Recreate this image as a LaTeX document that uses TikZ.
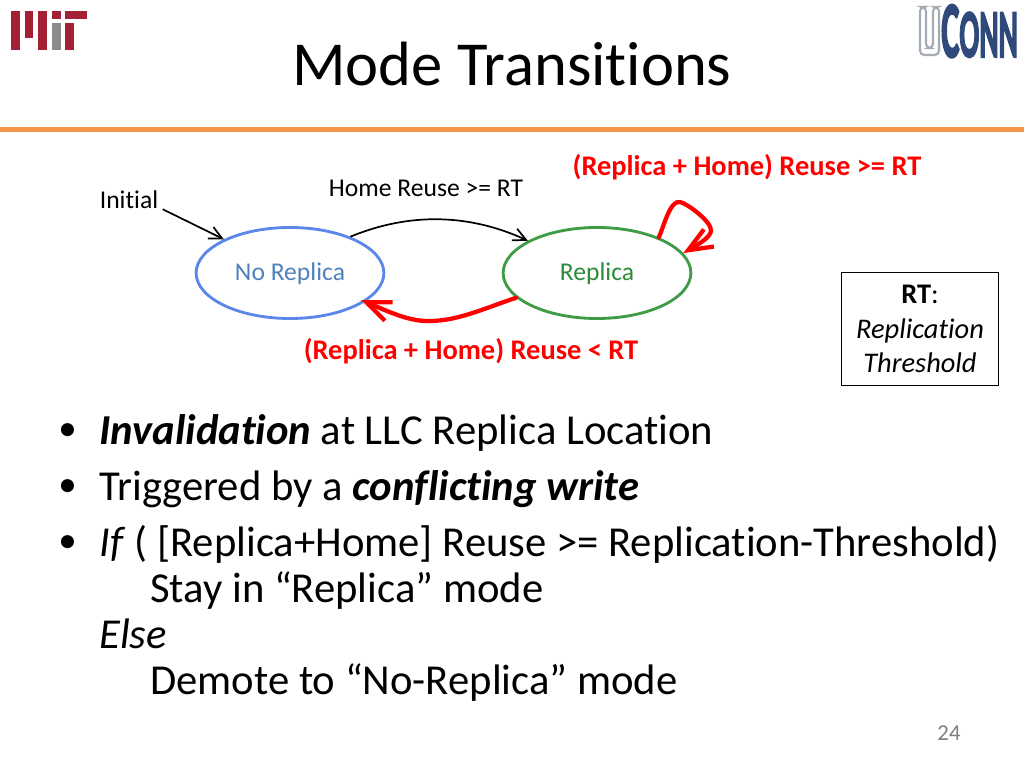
\documentclass[tikz,border=0pt]{standalone}
\usepackage{fontspec}
\setmainfont[Ligatures=NoCommon]{Carlito}
\newfontfamily\connfont[BoldFeatures={FakeBold=3}]{Carlito}
\usetikzlibrary{arrows.meta,shapes.geometric,positioning}
\definecolor{mitred}{HTML}{A31F34}
\definecolor{mitgray}{HTML}{8A8B8C}
\definecolor{connblue}{HTML}{2F4A7A}
\definecolor{connline}{HTML}{A5ABB3}
\definecolor{rulecolor}{HTML}{F79646}
\definecolor{modeblue}{HTML}{5B86EA}
\definecolor{modegreen}{HTML}{3F9B45}
\definecolor{textblue}{HTML}{4F81BD}
\definecolor{textgreen}{HTML}{2A8C36}
\definecolor{pagegray}{HTML}{7F7F7F}
\tikzset{
  mode/.style={ellipse, draw, line width=2pt, minimum width=132pt, minimum height=64pt, inner sep=0pt, text height=14.5pt, text depth=3.4pt, font=\fontsize{18}{22}\selectfont},
  label18/.style={font=\fontsize{18}{22}\selectfont, inner sep=0pt},
  redlabel/.style={text=red, inner sep=0pt, font=\fontsize{20}{24}\selectfont\bfseries},
  bullet/.style={anchor=base west, inner sep=0pt, font=\fontsize{30}{36}\selectfont},
  dotmark/.style={anchor=base west, inner sep=0pt, font=\fontsize{26}{36}\selectfont},
  thinarrow/.style={-{Straight Barb[length=9pt,width=9pt]}, line width=1.2pt},
  redarrow/.style={-{Straight Barb[length=17pt,width=14pt]}, line width=3pt, red, line cap=round}
}
\begin{document}
\begin{tikzpicture}[x=0.703125pt, y=-0.703125pt]
	\useasboundingbox (0,0) rectangle (1024,768);
	\fill[white] (0,0) rectangle (1024,768);

	% MIT logo
	\fill[mitred] (11,11) rectangle (20,50);
	\fill[mitred] (25,11) rectangle (33,38);
	\fill[mitred] (38,11) rectangle (47,50);
	\fill[mitred] (52,11) rectangle (61,19);
	\fill[mitgray] (52,23) rectangle (61,50);
	\fill[mitred] (65,11) rectangle (87,19);
	\fill[mitred] (65,23) rectangle (74,50);

	% UConn logo
	\draw[connline, line width=1.5pt, rounded corners=3pt] (920,7) -- (920,55) -- (939,55) -- (939,7) -- (933,7) -- (933,48) -- (926,48) -- (926,7) -- cycle;
	\node[anchor=base west, inner sep=0pt, text=connblue, font=\fontsize{56}{56}\connfont\bfseries] (uconn) at (941,57) {\scalebox{0.43}[1]{C\fontsize{48}{48}\selectfont ONN}};

	% title
	\node[inner sep=0pt, font=\fontsize{44}{52}\selectfont] (title) at (512,64) {Mode Transitions};
	\fill[rulecolor] (0,127) rectangle (1024,132);

	% modes
	\node[mode, draw=modeblue, text=textblue] (noreplica) at (290,273) {No Replica};
	\node[mode, draw=modegreen, text=textgreen] (replica) at (597,273) {Replica};

	% labels
	\node[label18] (initial) at (129,200) {Initial};
	\node[label18] (homelabel) at (426,188) {Home Reuse >= RT};
	\node[redlabel] (staylabel) at (747,167) {(Replica + Home) Reuse >= RT};
	\node[redlabel] (demotelabel) at (471,351) {(Replica + Home) Reuse < RT};

	% transitions
	\draw[thinarrow] ([xshift=3pt]initial.south east) -- (noreplica.153);
	\draw[thinarrow] (noreplica.31) .. controls (410,212) and (470,214) .. (replica.155);
	\draw[redarrow] (replica.30) .. controls (664,226) and (670,200) .. (680,202) .. controls (688,204) and (712,222) .. (711,231) .. controls (710,238) and (697,245) .. (replica.13);
	\draw[redarrow, shorten >=-3pt] (replica.197) .. controls (480,310) and (455,322) .. (425,321) .. controls (405,320) and (385,310) .. (noreplica.-21);

	% RT box
	\node[draw, line width=0.8pt, minimum width=110pt, minimum height=80pt, inner sep=0pt, align=center, font=\fontsize{20}{24}\selectfont] (rtbox) at (920,329) {\textbf{RT}:\\\textit{Replication}\\\textit{Threshold}};

	% bullets
	\node[dotmark] (dota) at (58,440) {•};
	\node[bullet] (linea) at (99,444) {\textbf{\textit{Invalidation}} at LLC Replica Location};
	\node[dotmark] (dotb) at (58,496) {•};
	\node[bullet] (lineb) at (99,500) {Triggered by a \textbf{\textit{conflicting write}}};
	\node[dotmark] (dotc) at (58,552) {•};
	\node[bullet] (linec) at (99,556) {\textit{If} ( [Replica+Home] Reuse >= Replication-Threshold)};
	\node[bullet] (lined) at (150,602) {Stay in “Replica” mode};
	\node[bullet] (linee) at (99,648) {\textit{Else}};
	\node[bullet] (linef) at (150,694) {Demote to “No-Replica” mode};

	% page number
	\node[inner sep=0pt, text=pagegray, font=\fontsize{16}{19}\selectfont] (pagenum) at (949,733) {24};
\end{tikzpicture}
\end{document}
